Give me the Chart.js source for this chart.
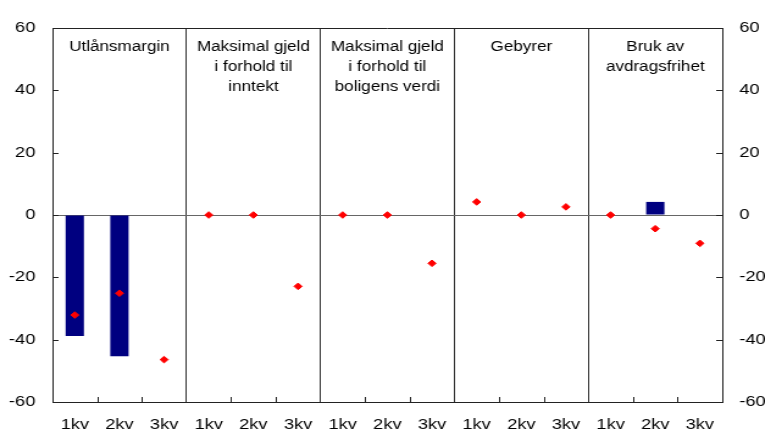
<!DOCTYPE html>
<html>
<head>
<meta charset="utf-8">
<script src="https://cdn.jsdelivr.net/npm/chart.js@4"></script>
<style>
  html, body { margin: 0; padding: 0; background: #fff; overflow: hidden; }
  /* the reference text is stretched sideways, so the whole chart is drawn narrow and widened */
  #wrap { width: 627px; height: 432px; transform: scaleX(1.22); transform-origin: 0 0; }
</style>
</head>
<body>
<div id="wrap"><canvas id="myChart"></canvas></div>
<script>
const categories = ['1kv', '2kv', '3kv', '1kv', '2kv', '3kv', '1kv', '2kv', '3kv',
                    '1kv', '2kv', '3kv', '1kv', '2kv', '3kv'];
const panelTitles = [
  ['Utlånsmargin'],
  ['Maksimal gjeld', 'i forhold til', 'inntekt'],
  ['Maksimal gjeld', 'i forhold til', 'boligens verdi'],
  ['Gebyrer'],
  ['Bruk av', 'avdragsfrihet']
];
const barValues = [-38.8, -45.3, null, null, null, null, null, null, null,
                   null, null, null, null, 4.2, null];
const pointValues = [-32.1, -25.1, -46.4, 0, 0, -22.9, 0, 0, -15.5,
                     4.2, 0, 2.6, 0, -4.4, -9.1];
const yMin = -60, yMax = 60, yStep = 20;

const family = '"Liberation Sans", Arial, sans-serif';
const tickFont = { family: family, size: 15 };
const titleSize = 14;

const framePlugin = {
  id: 'frame',
  afterDraw(chart) {
    const c = chart.ctx;
    const a = chart.chartArea;
    const x = chart.scales.x;
    const y = chart.scales.y;
    c.save();
    c.strokeStyle = '#222';
    c.lineWidth = 1;
    // top border
    c.beginPath();
    c.moveTo(a.left, a.top + 0.5);
    c.lineTo(a.right, a.top + 0.5);
    c.stroke();
    // inward ticks on both y axes
    y.ticks.forEach(t => {
      const py = Math.round(y.getPixelForValue(t.value)) + 0.5;
      c.beginPath();
      c.moveTo(a.left, py); c.lineTo(a.left + 5, py);
      c.moveTo(a.right - 5, py); c.lineTo(a.right, py);
      c.stroke();
    });
    // small ticks between quarters inside each panel
    for (let i = 1; i < categories.length; i++) {
      if (i % 3 === 0) continue;
      const px = Math.round((x.getPixelForValue(i - 1) + x.getPixelForValue(i)) / 2) + 0.5;
      c.beginPath();
      c.moveTo(px, a.bottom); c.lineTo(px, a.bottom - 5);
      c.stroke();
    }
    // panel headings
    c.fillStyle = '#000';
    c.font = titleSize + 'px ' + family;
    c.textAlign = 'center';
    c.textBaseline = 'alphabetic';
    panelTitles.forEach((lines, p) => {
      const cx = (x.getPixelForValue(p * 3) + x.getPixelForValue(p * 3 + 2)) / 2;
      lines.forEach((line, k) => c.fillText(line, cx, a.top + 23 + k * 20));
    });
    c.restore();
  }
};

const ctx = document.getElementById('myChart').getContext('2d');
new Chart(ctx, {
  data: {
    labels: categories,
    datasets: [
      {
        type: 'line',
        data: pointValues,
        showLine: false,
        pointStyle: 'rectRot',
        pointRadius: 3.3,
        pointBorderWidth: 1,
        pointBackgroundColor: '#ff0000',
        pointBorderColor: '#ff0000',
        order: 0
      },
      {
        type: 'bar',
        data: barValues,
        backgroundColor: '#000080',
        barPercentage: 0.41,
        categoryPercentage: 1,
        order: 1
      }
    ]
  },
  options: {
    responsive: true,
    maintainAspectRatio: false,
    animation: false,
    layout: { padding: { top: 28, left: 0, right: 0, bottom: 0 } },
    plugins: { legend: { display: false }, tooltip: { enabled: false } },
    scales: {
      x: {
        offset: true,
        grid: {
          offset: true,
          drawTicks: false,
          color: c => (c.index > 0 && c.index < categories.length && c.index % 3 === 0) ? '#333' : 'transparent'
        },
        border: { color: '#222' },
        ticks: { color: '#000', font: tickFont, padding: 14, maxRotation: 0, autoSkip: false },
        afterFit: s => { s.height = 30; }
      },
      y: {
        position: 'left',
        min: yMin, max: yMax,
        grid: {
          drawTicks: false,
          color: c => c.tick.value === 0 ? '#666' : 'transparent'
        },
        border: { color: '#222' },
        ticks: { stepSize: yStep, color: '#000', font: tickFont, padding: 14 },
        afterFit: s => { s.width = 43; }
      },
      y2: {
        position: 'right',
        min: yMin, max: yMax,
        grid: { display: false, drawTicks: false },
        border: { color: '#222' },
        ticks: { stepSize: yStep, color: '#000', font: tickFont, padding: 14 },
        afterFit: s => { s.width = 35; }
      }
    }
  },
  plugins: [framePlugin]
});
</script>
</body>
</html>
